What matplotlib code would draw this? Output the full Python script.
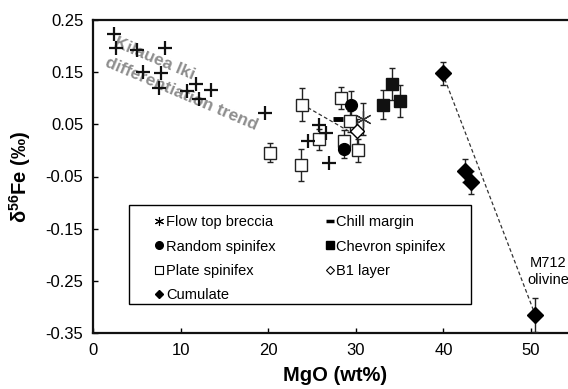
import matplotlib
matplotlib.use("Agg")
from matplotlib import pyplot as plt
from matplotlib.patches import Rectangle

plt.rcParams['font.family'] = ['Liberation Sans', 'DejaVu Sans']
plt.rcParams['mathtext.fontset'] = 'custom'
plt.rcParams['mathtext.rm'] = 'Liberation Sans'
plt.rcParams['mathtext.bf'] = 'Liberation Sans:bold'

# Kilauea Iki differentiation trend (no error bars)
ki_mgo = [2.4, 2.6, 5.0, 8.2, 5.7, 7.8, 7.5, 11.8, 10.7, 12.1, 13.5, 19.6,
          25.8, 26.6, 24.6, 26.9]
ki_fe = [0.223, 0.196, 0.193, 0.196, 0.151, 0.149, 0.119, 0.127, 0.113, 0.098,
         0.115, 0.072, 0.049, 0.033, 0.018, -0.025]

# Flow top breccia
ftb_mgo = [30.8]
ftb_fe = [0.060]
ftb_err = [0.030]

# Chill margin
chill_mgo = [28.0]
chill_fe = [0.060]

# Random spinifex
rand_mgo = [29.5, 28.6]
rand_fe = [0.088, 0.002]
rand_err = [0.025, 0.016]

# Chevron spinifex
chev_mgo = [34.1, 33.1, 35.1]
chev_fe = [0.127, 0.088, 0.095]
chev_err = [0.031, 0.028, 0.030]

# Plate spinifex
plate_mgo = [20.2, 23.9, 23.8, 25.8, 28.3, 29.3, 28.6, 30.2]
plate_fe = [-0.004, 0.088, -0.028, 0.021, 0.100, 0.056, 0.019, 0.000]
plate_err = [0.019, 0.031, 0.031, 0.021, 0.021, 0.020, 0.020, 0.022]

# B1 layer
b1_mgo = [30.1]
b1_fe = [0.037]
b1_err = [0.024]

# Cumulate
cum_mgo = [39.9, 42.5, 43.1, 50.5]
cum_fe = [0.148, -0.039, -0.061, -0.316]
cum_err = [0.022, 0.022, 0.022, 0.033]

# dashed tie lines
tie1_mgo = [23.9, 29.6]
tie1_fe = [0.088, 0.033]
tie2_mgo = [39.9, 50.5]
tie2_fe = [0.148, -0.316]

fig = plt.figure(figsize=(5.68, 3.89), dpi=100)
ax = fig.add_axes([93 / 568, 56 / 389, 525.6 / 568, 313 / 389])

ax.plot(tie1_mgo, tie1_fe, ls=(0, (3, 2)), color='#333333', lw=0.9, zorder=1)
ax.plot(tie2_mgo, tie2_fe, ls=(0, (3, 2)), color='#333333', lw=0.9, zorder=1)

ebkw = dict(ecolor='#222222', elinewidth=1.0, capsize=2.3, capthick=1.0, ls='none', zorder=3)

ax.errorbar(plate_mgo, plate_fe, yerr=plate_err, fmt='s', ms=8.5, mfc='white', mec='#222222', mew=1.0, **ebkw)
ax.errorbar(rand_mgo, rand_fe, yerr=rand_err, fmt='o', ms=8.5, mfc='black', mec='black', **ebkw)
ax.errorbar(chev_mgo, chev_fe, yerr=chev_err, fmt='s', ms=8.5, mfc='#111111', mec='#111111', **ebkw)
ax.errorbar(b1_mgo, b1_fe, yerr=b1_err, fmt='D', ms=7.5, mfc='white', mec='black', mew=1.0, **ebkw)
ax.errorbar(ftb_mgo, ftb_fe, yerr=ftb_err, fmt='none', **ebkw)
ax.plot(ftb_mgo, ftb_fe, ls='none', marker=(6, 2, 0), ms=12, mec='#333333', mew=0.9, zorder=4)
ax.errorbar(cum_mgo, cum_fe, yerr=cum_err, fmt='D', ms=8, mfc='black', mec='black', **ebkw)
ax.plot(chill_mgo, chill_fe, ls='none', marker='_', ms=7, mew=3.5, color='black', zorder=4)
ax.plot(ki_mgo, ki_fe, ls='none', marker='+', ms=10, mew=1.6, color='#111111', zorder=4)

# legend handles
h_ftb = ax.plot([], [], ls='none', marker=(6, 2, 0), ms=6.5, mec='black', mew=0.8)[0]
h_chill = ax.plot([], [], ls='none', marker='_', ms=5.5, mew=2.5, color='black')[0]
h_rand = ax.plot([], [], ls='none', marker='o', ms=5.5, mfc='black', mec='black')[0]
h_chev = ax.plot([], [], ls='none', marker='s', ms=5.5, mfc='black', mec='black')[0]
h_plate = ax.plot([], [], ls='none', marker='s', ms=5.5, mfc='white', mec='black', mew=0.8)[0]
h_b1 = ax.plot([], [], ls='none', marker='D', ms=4.5, mfc='white', mec='black', mew=0.8)[0]
h_cum = ax.plot([], [], ls='none', marker='D', ms=4.5, mfc='black', mec='black')[0]

leg = ax.legend([h_ftb, h_rand, h_plate, h_cum, h_chill, h_chev, h_b1],
                ['Flow top breccia', 'Random spinifex', 'Plate spinifex', 'Cumulate',
                 'Chill margin', 'Chevron spinifex', 'B1 layer'],
                ncol=2, loc='upper left', bbox_to_anchor=(0.118, 0.376),
                frameon=False, fontsize=10.5, handlelength=0.6, handletextpad=0.15,
                columnspacing=3.4, labelspacing=0.7, borderpad=0, borderaxespad=0)
ax.add_patch(Rectangle((0.0685, 0.093), 0.651, 0.316, transform=ax.transAxes,
                       fill=False, ec='black', lw=1.0, zorder=5))

ax.text(2.5, 0.208, 'Kilauea Iki', rotation=-23, rotation_mode='anchor', ha='left', va='center',
        fontsize=12.5, fontweight='bold', color='#8e8e8e', zorder=2)
ax.text(1.5, 0.170, 'differentiation trend', rotation=-23, rotation_mode='anchor', ha='left', va='center',
        fontsize=12.5, fontweight='bold', color='#8e8e8e', zorder=2)
ax.text(49.6, -0.232, 'M712\nolivine', ha='left', va='center', fontsize=10.5,
        linespacing=1.25, multialignment='center')

ax.set_xlim(0, 60)
ax.set_ylim(-0.35, 0.25)
ax.set_xticks([0, 10, 20, 30, 40, 50])
ax.set_yticks([-0.35, -0.25, -0.15, -0.05, 0.05, 0.15, 0.25])
ax.set_yticklabels(['-0.35', '-0.25', '-0.15', '-0.05', '0.05', '0.15', '0.25'])
ax.tick_params(direction='in', length=3.5, width=1, labelsize=12, pad=7, colors='black')
for s in ax.spines.values():
    s.set_linewidth(1.6)
    s.set_color('#111111')

ax.set_xlabel('MgO (wt%)', fontsize=14.5, fontweight='bold')
ax.xaxis.set_label_coords(0.461, -0.105)
ax.set_ylabel(r'δ$^{\mathbf{56}}$Fe (‰)', fontsize=14.5, fontweight='bold')
ax.yaxis.set_label_coords(-0.114, 0.5)

fig.savefig('out.png', dpi=100)
